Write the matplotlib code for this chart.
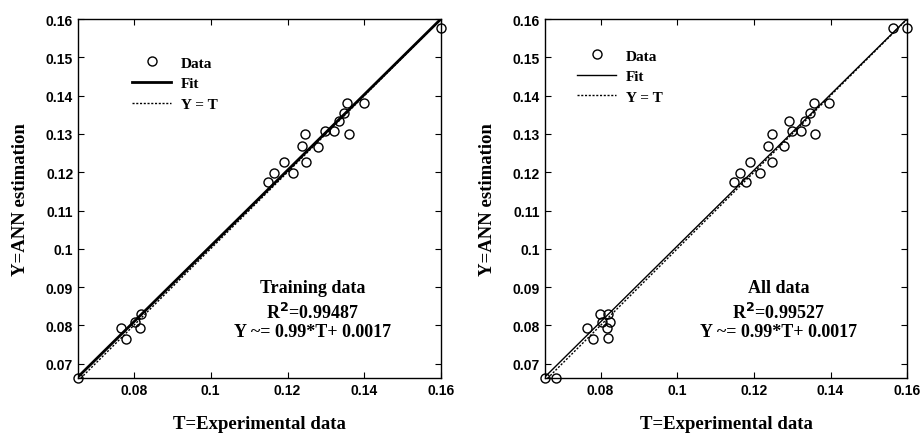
import numpy as np
import matplotlib.pyplot as plt
from matplotlib.ticker import FuncFormatter

# training data (T, Y)
train_t = [0.0655, 0.0767, 0.0781, 0.0802, 0.0819, 0.0817, 0.1150, 0.1165,
           0.1190, 0.1215, 0.1237, 0.1245, 0.1247, 0.1279, 0.1298, 0.1322,
           0.1333, 0.1346, 0.1356, 0.1359, 0.1398, 0.1600]
train_y = [0.0663, 0.0793, 0.0765, 0.0810, 0.0830, 0.0793, 0.1174, 0.1198,
           0.1226, 0.1197, 0.1268, 0.1301, 0.1226, 0.1267, 0.1307, 0.1307,
           0.1335, 0.1355, 0.1380, 0.1301, 0.1380, 0.1577]

# all data (T, Y)
all_t = [0.0655, 0.0685, 0.0766, 0.0781, 0.0799, 0.0804, 0.0820, 0.0824,
         0.0817, 0.0820, 0.1149, 0.1165, 0.1179, 0.1190, 0.1215, 0.1237,
         0.1246, 0.1247, 0.1278, 0.1291, 0.1299, 0.1323, 0.1334, 0.1347,
         0.1357, 0.1360, 0.1396, 0.1562, 0.1600]
all_y = [0.0663, 0.0663, 0.0793, 0.0765, 0.0830, 0.0810, 0.0830, 0.0810,
         0.0793, 0.0767, 0.1174, 0.1198, 0.1174, 0.1226, 0.1198, 0.1268,
         0.1301, 0.1226, 0.1268, 0.1335, 0.1307, 0.1307, 0.1335, 0.1355,
         0.1380, 0.1301, 0.1380, 0.1577, 0.1577]

fit_slope, fit_icpt = 0.99, 0.0017
lim = [0.0655, 0.16]
xticks = [0.08, 0.1, 0.12, 0.14, 0.16]
yticks = [0.07, 0.08, 0.09, 0.1, 0.11, 0.12, 0.13, 0.14, 0.15, 0.16]

serif = 'Liberation Serif'
sans = 'Liberation Sans'

fig = plt.figure(figsize=(9.22, 4.35), dpi=100)
ax1 = fig.add_axes([0.0846, 0.129, 0.394, 0.825])
ax2 = fig.add_axes([0.591, 0.129, 0.393, 0.825])

panels = [
    (ax1, train_t, train_y, 'Training data', '0.99487', 2.0, (0.11, 0.935)),
    (ax2, all_t, all_y, 'All data', '0.99527', 1.0, (0.05, 0.955)),
]


def fmt(v, pos):
    return f"{v:.2f}".rstrip('0')


for ax, t, y, name, r2, lw, leg_pos in panels:
    tt = np.array(lim)
    ax.plot(t, y, 'o', mfc='none', mec='black', ms=6.5, mew=1.0, label='Data',
            clip_on=False, zorder=4)
    ax.plot(tt, fit_slope * tt + fit_icpt, '-', color='black', lw=lw, label='Fit')
    ax.plot(tt, tt, color='black', lw=1.0, dashes=(1.5, 1.2), label='Y = T')
    ax.set_xlim(lim)
    ax.set_ylim(0.0663, 0.16)
    ax.set_xticks(xticks)
    ax.set_yticks(yticks)
    ax.xaxis.set_major_formatter(FuncFormatter(fmt))
    ax.yaxis.set_major_formatter(FuncFormatter(fmt))
    ax.tick_params(direction='in', top=True, right=True, length=4, width=0.8)
    for lab in ax.get_xticklabels() + ax.get_yticklabels():
        lab.set_fontfamily(sans)
        lab.set_fontweight('bold')
        lab.set_fontsize(10)
    for sp in ax.spines.values():
        sp.set_linewidth(1.0)
    ax.set_xlabel('T=Experimental data', family=serif, weight='bold', fontsize=13.5, labelpad=13)
    ax.set_ylabel('Y=ANN estimation', family=serif, weight='bold', fontsize=13.5, labelpad=12)
    ax.legend(loc='upper left', bbox_to_anchor=leg_pos, frameon=False,
              prop={'family': serif, 'weight': 'bold', 'size': 11},
              handlelength=2.6, labelspacing=0.45, handletextpad=0.6)
    ax.text(0.645, 0.253, name, transform=ax.transAxes, ha='center', va='center',
            family=serif, weight='bold', fontsize=13)
    ax.text(0.645, 0.184, r'R$^\mathbf{2}$=' + r2, transform=ax.transAxes, ha='center',
            va='center', family=serif, weight='bold', fontsize=13)
    ax.text(0.645, 0.128, 'Y ~= 0.99*T+ 0.0017', transform=ax.transAxes, ha='center',
            va='center', family=serif, weight='bold', fontsize=13)

fig.savefig('out.png', dpi=100)
